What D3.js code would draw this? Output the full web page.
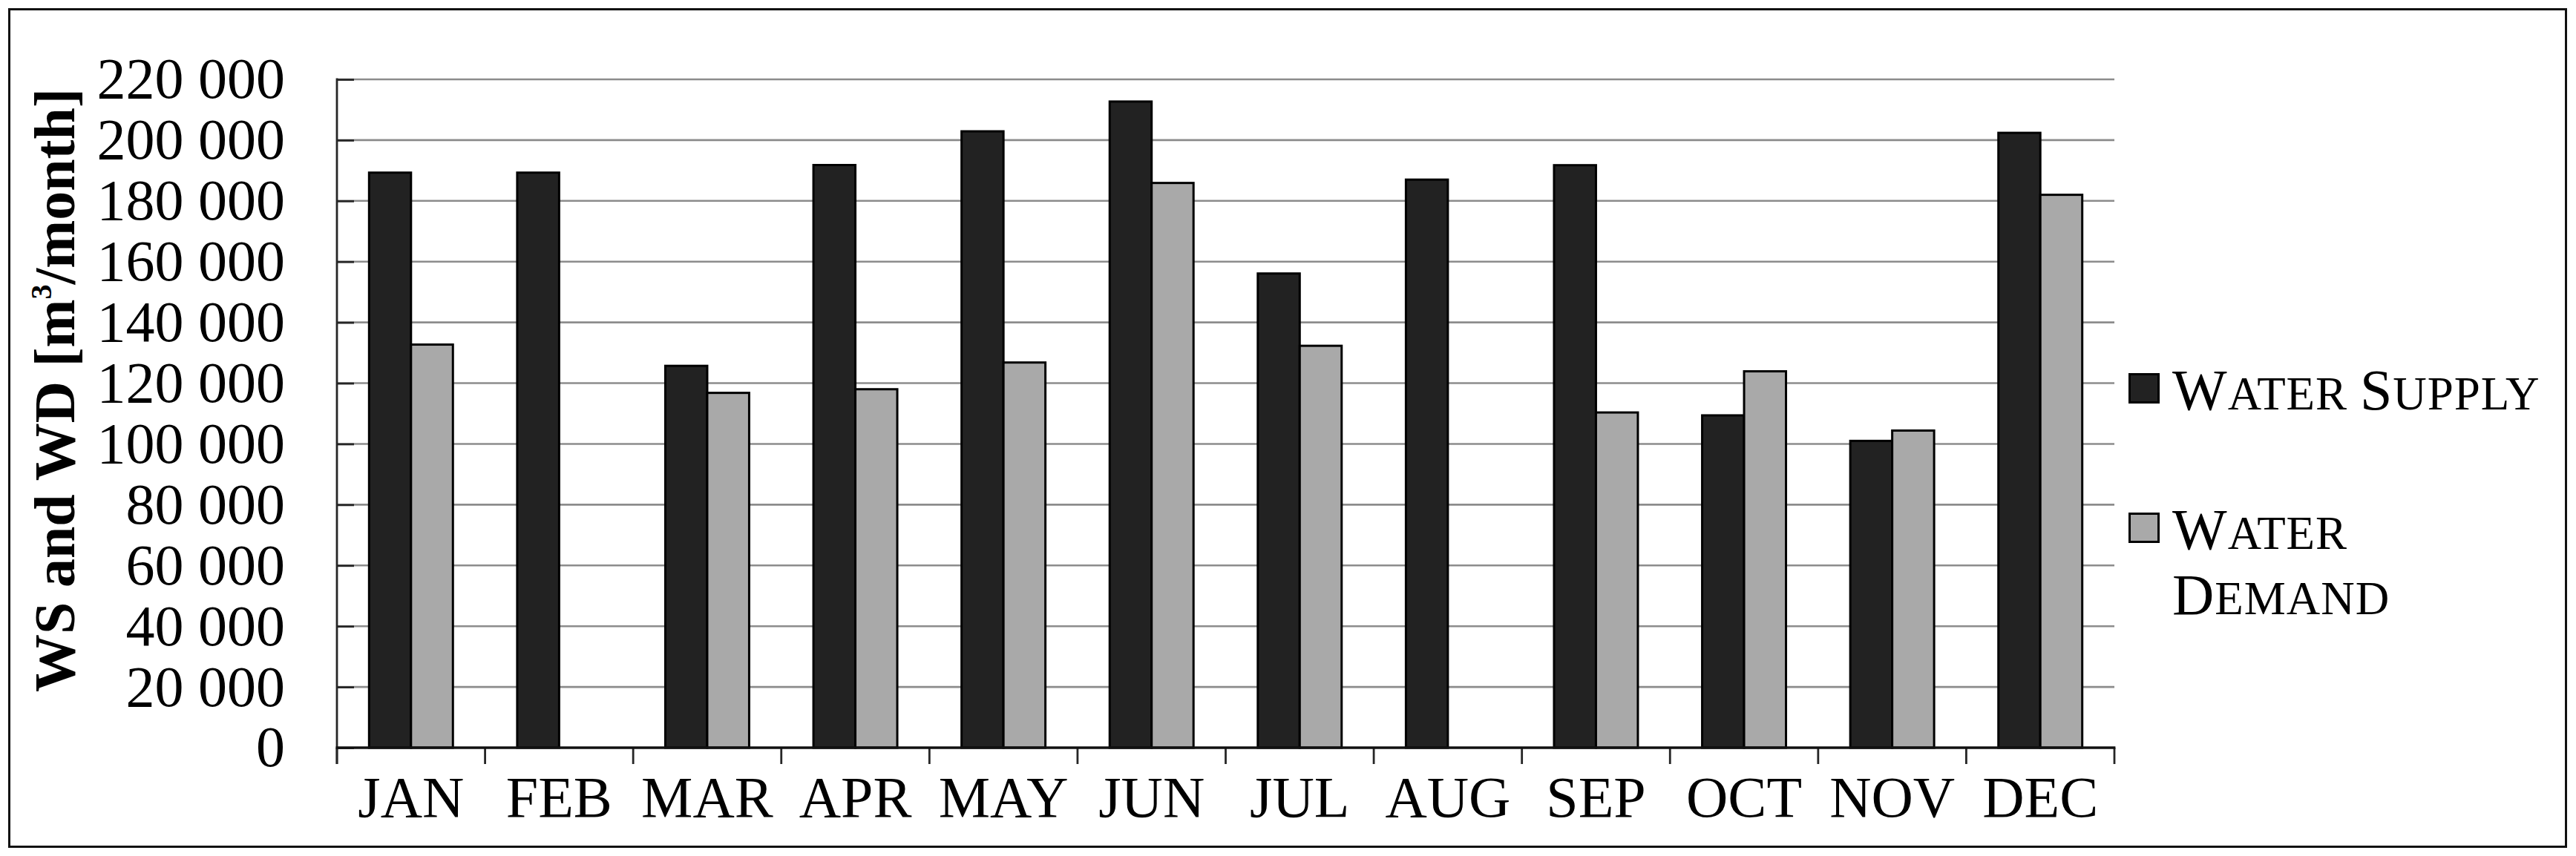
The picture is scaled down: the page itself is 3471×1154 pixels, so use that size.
<!DOCTYPE html>
<html>
<head>
<meta charset="utf-8">
<script src="https://cdn.jsdelivr.net/npm/d3@7/dist/d3.min.js"></script>
<style>
  html, body { margin: 0; padding: 0; background: #fff; }
  svg { display: block; }
  text { font-family: "Liberation Serif", "Times New Roman", serif; fill: #000; }
</style>
</head>
<body>
<svg id="chart" width="3471" height="1154"></svg>
<script>
// ---- data ----
const months = ["JAN","FEB","MAR","APR","MAY","JUN","JUL","AUG","SEP","OCT","NOV","DEC"];
const seriesNames = ["Water Supply", "Water Demand"];
const waterSupply = [189300, 189300, 125700, 191800, 202900, 212700, 156100, 187000, 191750, 109400, 101000, 202400];
const waterDemand = [132700, null, 116800, 118000, 126800, 185900, 132300, null, 110350, 123900, 104400, 182000];
const yTickValues = [0, 20000, 40000, 60000, 80000, 100000, 120000, 140000, 160000, 180000, 200000, 220000];

// ---- layout ----
const W = 3471, H = 1154;
const plot = { left: 454, right: 2849, top: 107, bottom: 1008 };
const fontSize = 78;
const colors = ["#222222", "#a9a9a9"];

const svg = d3.select("#chart");
svg.append("rect").attr("width", W).attr("height", H).attr("fill", "#fff");
// outer frame
svg.append("rect")
  .attr("x", 12.5).attr("y", 12.5).attr("width", 3445).attr("height", 1129)
  .attr("fill", "none").attr("stroke", "#111").attr("stroke-width", 3);

const x = d3.scaleBand().domain(months).range([plot.left, plot.right])
  .paddingInner(0.434).paddingOuter(0.217);
const xs = d3.scaleBand().domain([0, 1]).range([0, x.bandwidth()]).padding(0);
const y = d3.scaleLinear().domain([0, 220000]).range([plot.bottom, plot.top]);

const fmt = d3.formatLocale({ decimal: ".", thousands: " ", grouping: [3], currency: ["", ""] }).format(",d");

// gridlines
svg.append("g").selectAll("line").data(yTickValues.filter(d => d > 0)).join("line")
  .attr("x1", plot.left).attr("x2", plot.right)
  .attr("y1", d => y(d)).attr("y2", d => y(d))
  .attr("stroke", "#8c8c8c").attr("stroke-width", 2.6);

// bars
const data = months.map((m, i) => ({ m, vals: [waterSupply[i], waterDemand[i]] }));
const groups = svg.append("g").selectAll("g").data(data).join("g")
  .attr("transform", d => `translate(${x(d.m)},0)`);
groups.selectAll("rect")
  .data(d => d.vals.map((v, k) => ({ v, k })).filter(e => e.v != null))
  .join("rect")
  .attr("x", e => xs(e.k))
  .attr("width", xs.bandwidth())
  .attr("y", e => y(e.v))
  .attr("height", e => y(0) - y(e.v))
  .attr("fill", e => colors[e.k])
  .attr("stroke", "#000").attr("stroke-width", 3);

// y axis
const yAxis = svg.append("g").attr("transform", `translate(${plot.left},0)`)
  .call(d3.axisLeft(y).tickValues(yTickValues).tickFormat(fmt)
        .tickSizeInner(-23).tickSizeOuter(0).tickPadding(70));
yAxis.select(".domain").remove();
yAxis.selectAll(".tick line").attr("stroke", "#262626").attr("stroke-width", 2.8);
yAxis.selectAll(".tick text")
  .attr("font-size", fontSize)
  .style("font-family", '"Liberation Serif", "Times New Roman", serif')
  .attr("fill", "#000");
svg.append("line")
  .attr("x1", plot.left).attr("x2", plot.left)
  .attr("y1", plot.top - 1.5).attr("y2", plot.bottom + 22)
  .attr("stroke", "#262626").attr("stroke-width", 2.8);

// x axis
const xAxis = svg.append("g").attr("transform", `translate(0,${plot.bottom})`)
  .call(d3.axisBottom(x).tickSize(0).tickPadding(38));
xAxis.select(".domain").remove();
xAxis.selectAll(".tick text")
  .attr("font-size", fontSize)
  .style("font-family", '"Liberation Serif", "Times New Roman", serif')
  .attr("fill", "#000");
const step = x.step();
svg.append("g").selectAll("line").data(d3.range(months.length + 1)).join("line")
  .attr("x1", i => plot.left + i * step).attr("x2", i => plot.left + i * step)
  .attr("y1", plot.bottom).attr("y2", plot.bottom + 22)
  .attr("stroke", "#262626").attr("stroke-width", 2.8);
svg.append("line")
  .attr("x1", plot.left - 1.4).attr("x2", plot.right + 1.4)
  .attr("y1", plot.bottom).attr("y2", plot.bottom)
  .attr("stroke", "#111").attr("stroke-width", 3.6);

// y axis title
const title = svg.append("text")
  .attr("transform", "translate(100,526) rotate(-90)")
  .attr("text-anchor", "middle")
  .attr("font-size", fontSize).attr("font-weight", "bold");
title.append("tspan").text("WS and WD [m");
title.append("tspan").attr("font-size", 40).attr("dy", -31).text("3");
title.append("tspan").attr("dy", 31).text("/month]");

// legend
const legendEntries = [
  { lines: [[["W", 1], ["ATER ", 0], ["S", 1], ["UPPLY", 0]]], color: colors[0], y: 504.5 },
  { lines: [[["W", 1], ["ATER", 0]], [["D", 1], ["EMAND", 0]]], color: colors[1], y: 692.5 }
];
const lg = svg.append("g");
legendEntries.forEach((e, i) => {
  lg.append("rect").attr("x", 2869.5).attr("y", e.y).attr("width", 39).attr("height", 38)
    .attr("fill", e.color).attr("stroke", "#000").attr("stroke-width", 3);
  e.lines.forEach((ln, j) => {
    const t = lg.append("text").attr("x", 2927).attr("y", e.y + 47.5 + j * 88)
      .attr("font-size", fontSize).attr("letter-spacing", 1);
    ln.forEach(([s, big]) => t.append("tspan").attr("font-size", big ? 78 : 63).text(s));
  });
});
</script>
</body>
</html>
